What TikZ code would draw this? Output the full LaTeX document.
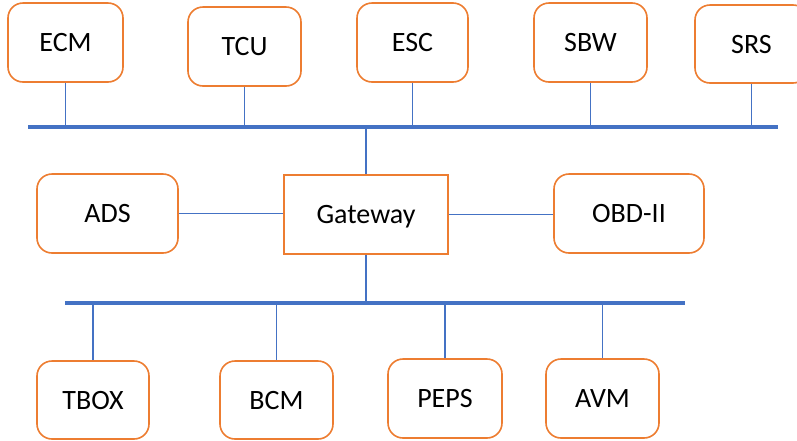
\documentclass[tikz,border=0pt]{standalone}
\usepackage{fontspec}
\setmainfont{Carlito}
\definecolor{ecuorange}{HTML}{ED7D31}
\definecolor{busblue}{HTML}{4472C4}
\begin{document}
\begin{tikzpicture}[x=1pt,y=-1pt,
  ecu/.style={draw=ecuorange,line width=1.6pt,rounded corners=15pt,fill=white,
    minimum width=113pt,minimum height=79pt,inner sep=0pt,text depth=0pt,
    font=\fontsize{28}{32}\selectfont},
  gw/.style={ecu,rounded corners=0pt,minimum width=164pt},
  bus/.style={draw=busblue,line width=4pt},
  link/.style={draw=busblue,line width=1.3pt}]
\useasboundingbox (0,0) rectangle (797,440);

% backbone buses
\coordinate (topL) at (28,127);
\coordinate (topR) at (778,127);
\coordinate (botL) at (65,303);
\coordinate (botR) at (685,303);
\draw[bus] (topL) -- (topR);
\draw[bus,line width=3.5pt] (botL) -- (botR);

% upper ECUs
\node[ecu,minimum width=115pt] (ECM) at (65.5,42.5) {ECM};
\node[ecu] (TCU) at (244.5,46.5) {TCU};
\node[ecu,minimum width=111pt] (ESC) at (412.5,42.5) {ESC};
\node[ecu] (SBW) at (590.5,42.5) {SBW};
\node[ecu,minimum height=78pt] (SRS) at (751.5,44) {SRS};

% middle row
\node[ecu,minimum width=141pt] (ADS) at (107.5,213.5) {ADS};
\node[gw] (GW) at (366,214.5) {Gateway};
\node[ecu,minimum width=150pt] (OBD) at (629,213.5) {OBD-II};

% lower ECUs
\node[ecu,minimum width=112pt,minimum height=78pt] (TBOX) at (93,400) {TBOX};
\node[ecu,minimum height=78pt] (BCM) at (276.5,400) {BCM};
\node[ecu,minimum width=114pt] (PEPS) at (445,398.5) {PEPS};
\node[ecu] (AVM) at (602.5,398.5) {AVM};

% stubs to the buses
\foreach \n in {ECM,TCU,ESC,SBW,SRS}
  \draw[link] (\n.south) -- (\n.south |- topL);
\draw[link] (GW.north) -- (GW.north |- topL);
\draw[link] (GW.south) -- (GW.south |- botL);
\foreach \n in {TBOX,BCM,PEPS,AVM}
  \draw[link] (\n.north) -- (\n.north |- botL);
\draw[link] (ADS.east) -- (ADS.east -| GW.west);
\draw[link] (GW.east) -- (GW.east -| OBD.west);
\end{tikzpicture}
\end{document}
